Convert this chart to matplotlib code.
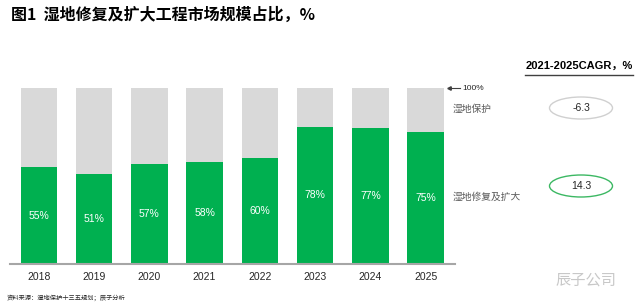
import numpy as np
import matplotlib.pyplot as plt
from matplotlib.patches import Ellipse

# data
years = ["2018", "2019", "2020", "2021", "2022", "2023", "2024", "2025"]
restore = [55, 51, 57, 58, 60, 78, 77, 75]      # 湿地修复及扩大
protect = [45, 49, 43, 42, 40, 22, 23, 25]      # 湿地保护
series_names = ["湿地保护", "湿地修复及扩大"]
cagr = ["-6.3", "14.3"]

green = "#00B050"
grey = "#D9D9D9"
cjk = ["Noto Sans CJK SC", "DejaVu Sans"]
latin = ["Liberation Sans", "Noto Sans CJK SC"]

W, H = 640, 306
fig = plt.figure(figsize=(W / 100, H / 100), dpi=100)

def fx(px):
    return px / W

def fy(py):
    return 1 - py / H

# axes placed in pixel space: x 10..455, y 88..264
ax = fig.add_axes([fx(10), fy(264), fx(455) - fx(10), fy(88) - fy(264)])
x = np.arange(len(years))
ax.bar(x, restore, width=0.66, color=green, zorder=2)
ax.bar(x, protect, width=0.66, bottom=restore, color=grey, zorder=2)
ax.set_xlim(-0.52, 7.53)
ax.set_ylim(0, 100)

for i, v in enumerate(restore):
    ax.text(i, v / 2, f"{v}%", ha="center", va="center", color="white",
            fontsize=7.5, family=latin)

for s in ["top", "right", "left"]:
    ax.spines[s].set_visible(False)
ax.spines["bottom"].set_color("#A6A6A6")
ax.spines["bottom"].set_linewidth(1.5)
ax.set_yticks([])
ax.set_xticks(x)
ax.set_xticklabels(years, fontsize=7.5, family=latin, color="#262626")
ax.tick_params(axis="x", length=0, pad=6)

# title
fig.text(fx(11), fy(15), "图1  湿地修复及扩大工程市场规模占比，%", fontsize=11.5,
         family=cjk, fontweight="bold", va="center", ha="left")

# CAGR header
fig.text(fx(579), fy(66), "2021-2025CAGR，%", fontsize=8, fontweight="bold",
         family=latin, ha="center", va="center")
fig.add_artist(plt.Line2D([fx(525), fx(633)], [fy(74.5), fy(74.5)],
                          color="#404040", lw=1))

# 100% marker
fig.add_artist(plt.Line2D([fx(449), fx(460)], [fy(88), fy(88)], color="#404040", lw=0.8))
fig.add_artist(plt.Line2D([fx(449)], [fy(88)], marker="<", ms=2.5, color="#404040"))
fig.text(fx(462), fy(88), "100%", fontsize=6, family=latin, va="center", color="#262626")

# series labels
fig.text(fx(453), fy(109), series_names[0], fontsize=7, family=cjk,
         va="center", color="#595959")
fig.text(fx(453), fy(197), series_names[1], fontsize=7, family=cjk,
         va="center", color="#595959")

# CAGR ellipses
for val, cy, ec in [(cagr[0], 108, "#D0D0D0"), (cagr[1], 186, "#3CB863")]:
    e = Ellipse((fx(581), fy(cy)), width=fx(63), height=22 / H,
                transform=fig.transFigure, facecolor="white", edgecolor=ec, lw=1)
    fig.add_artist(e)
    fig.text(fx(581), fy(cy), val, fontsize=7.5, family=latin,
             ha="center", va="center", color="#262626")

# source + watermark
fig.text(fx(7), fy(298), "资料来源：湿地保护十三五规划；辰子分析", fontsize=4.5,
         family=cjk, va="center", color="#262626")
fig.text(fx(556), fy(280), "辰子公司", fontsize=11, family=cjk,
         va="center", color="#C8C8C8")

fig.savefig("out.png", dpi=100)
